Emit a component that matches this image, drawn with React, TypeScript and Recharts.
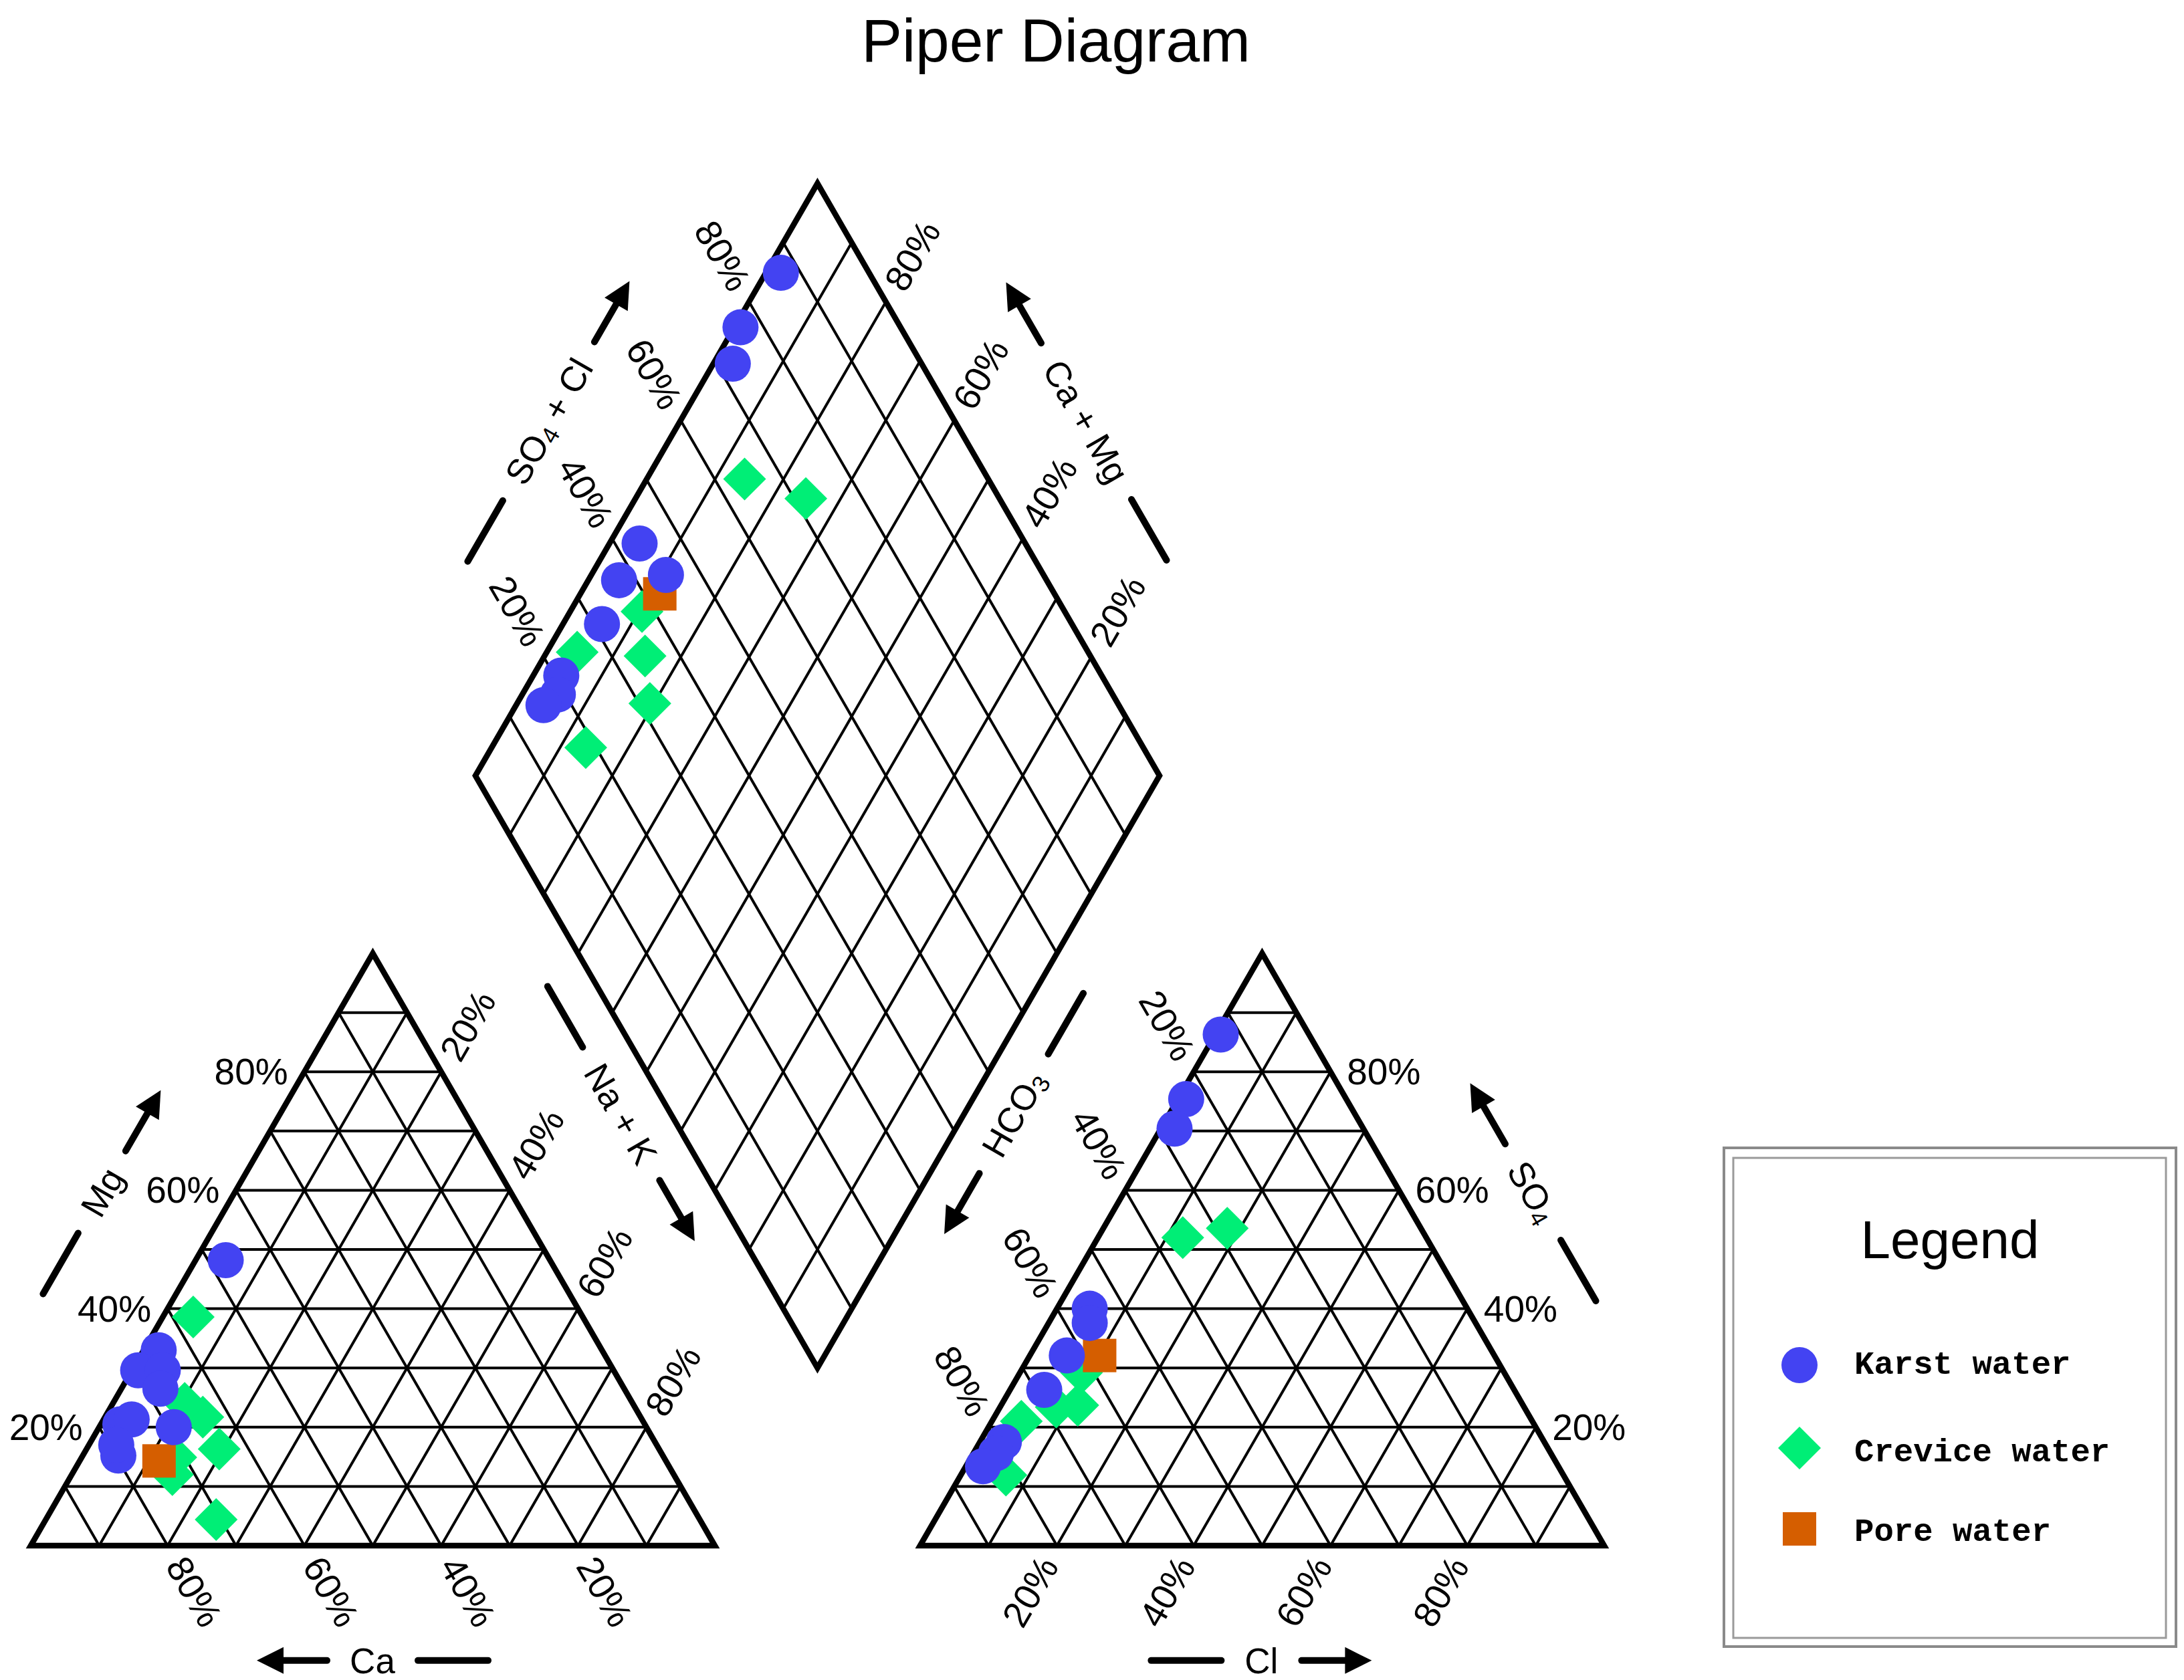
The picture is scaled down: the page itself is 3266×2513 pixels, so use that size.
import React from "react";
import { ScatterChart, Scatter, XAxis, YAxis, ReferenceLine, Legend } from "recharts";

// ---- sample compositions (meq %) ----
const karstMg = [33.0, 29.6, 20.5, 20.0, 48.2, 29.6, 26.5, 21.3, 15.2, 17.0];
const karstNaK = [2.2, 0.9, 2.85, 10.9, 4.4, 4.5, 5.7, 4.1, 5.2, 4.0];
const karstSO4 = [86.3, 75.4, 70.4, 40.0, 37.6, 32.1, 26.3, 17.5, 15.6, 13.4];
const karstCl = [0.8, 1.2, 2.0, 4.8, 6.0, 5.4, 5.0, 3.5, 3.3, 2.5];

const creviceMg = [38.6, 21.7, 16.3, 4.4, 24.0, 14.9, 12.0];
const creviceNaK = [4.45, 14.3, 19.4, 24.9, 10.5, 13.75, 14.7];
const creviceSO4 = [21.0, 52.0, 23.4, 53.6, 29.2, 11.9, 23.7];
const creviceCl = [4.3, 12.4, 8.2, 18.1, 9.0, 6.6, 11.2];

const poreMg = [14.3];
const poreNaK = [11.6];
const poreSO4 = [32.1];
const poreCl = [10.2];

const TICK_VALUES = [20, 40, 60, 80];
const GRID_STEPS = [10, 20, 30, 40, 50, 60, 70, 80, 90];

const legendItems = [
  { name: "Karst water", kind: "circle", color: "#4343F2" },
  { name: "Crevice water", kind: "diamond", color: "#00EE76" },
  { name: "Pore water", kind: "square", color: "#D55E00" },
];

// ---- layout ----
const W = 3266;
const HGT = 2513;
const PX = 10.23;
const ORIGIN_X = 46;
const ORIGIN_Y = 2312;
const X_DOMAIN = [-ORIGIN_X / PX, (W - ORIGIN_X) / PX];
const Y_DOMAIN = [-(HGT - ORIGIN_Y) / PX, ORIGIN_Y / PX];

const FONT = '"Liberation Sans", Arial, Helvetica, sans-serif';
const MONO = '"Liberation Mono", "Courier New", monospace';

const SQ = Math.sqrt(3) / 2;
const GAP = 30;
const AN_X0 = 100 + GAP;
const DL = { x: 50 + GAP / 2, y: (GAP / 2) * Math.sqrt(3) + 100 * SQ };

const cationXY = (mg: number, nak: number) => ({ x: nak + mg / 2, y: mg * SQ });
const anionXY = (so4: number, cl: number) => ({ x: AN_X0 + cl + so4 / 2, y: so4 * SQ });
const diamondXY = (c: number, s: number) => ({ x: DL.x + (c + s) / 2, y: DL.y + (s - c) * SQ });

function project(mg: number[], nak: number[], so4: number[], cl: number[]) {
  const pts: { x: number; y: number }[] = [];
  mg.forEach((m, i) => {
    pts.push(cationXY(m, nak[i]));
    pts.push(anionXY(so4[i], cl[i]));
    pts.push(diamondXY(nak[i], so4[i] + cl[i]));
  });
  return pts;
}

const karstPts = project(karstMg, karstNaK, karstSO4, karstCl);
const crevicePts = project(creviceMg, creviceNaK, creviceSO4, creviceCl);
const porePts = project(poreMg, poreNaK, poreSO4, poreCl);

// grid
const gridSegments: { x: number; y: number }[][] = [];
GRID_STEPS.forEach((k) => {
  gridSegments.push([cationXY(k, 0), cationXY(k, 100 - k)]);
  gridSegments.push([cationXY(0, k), cationXY(100 - k, k)]);
  gridSegments.push([cationXY(0, 100 - k), cationXY(100 - k, 0)]);
  gridSegments.push([anionXY(k, 0), anionXY(k, 100 - k)]);
  gridSegments.push([anionXY(0, k), anionXY(100 - k, k)]);
  gridSegments.push([anionXY(0, 100 - k), anionXY(100 - k, 0)]);
  gridSegments.push([diamondXY(k, 0), diamondXY(k, 100)]);
  gridSegments.push([diamondXY(0, k), diamondXY(100, k)]);
});

const leftTri = [cationXY(0, 0), cationXY(0, 100), cationXY(100, 0), cationXY(0, 0), cationXY(0, 100)];
const rightTri = [anionXY(0, 0), anionXY(0, 100), anionXY(100, 0), anionXY(0, 0), anionXY(0, 100)];
const diamondOutline = [
  diamondXY(0, 0), diamondXY(100, 0), diamondXY(100, 100), diamondXY(0, 100), diamondXY(0, 0), diamondXY(100, 0),
];

// tick labels
const OFF = 2.4;
const place = (p: { x: number; y: number }, dx: number, dy: number, rot: number, anchor: string, t: number) => ({
  x: p.x + dx * OFF,
  y: p.y + dy * OFF,
  rot,
  anchor,
  text: `${t}%`,
});
const tickLabels: any[] = [];
TICK_VALUES.forEach((t) => {
  tickLabels.push(place(cationXY(t, 0), -1, 0, 0, "end", t));
  tickLabels.push(place(cationXY(100 - t, t), 0.5, SQ, -60, "start", t));
  tickLabels.push(place(cationXY(0, 100 - t), 0.5, -SQ, 60, "start", t));
  tickLabels.push(place(anionXY(0, t), -0.5, -SQ, -60, "end", t));
  tickLabels.push(place(anionXY(100 - t, 0), -0.5, SQ, 60, "end", t));
  tickLabels.push(place(anionXY(t, 100 - t), 1, 0, 0, "start", t));
  tickLabels.push(place(diamondXY(0, t), -0.5, SQ, 60, "end", t));
  tickLabels.push(place(diamondXY(100 - t, 100), 0.5, SQ, -60, "start", t));
});

// axis titles with arrows
const axisTitles = [
  { x: 49.95, y: -16.8, rot: 0, arrow: "start", half: 33, parts: [["Ca", false]] },
  { x: 179.9, y: -16.8, rot: 0, arrow: "end", half: 25, parts: [["Cl", false]] },
  { x: 10.4, y: 51.7, rot: -60, arrow: "end", half: 36, parts: [["Mg", false]] },
  { x: 219.6, y: 51.7, rot: 60, arrow: "start", half: 48, parts: [["SO", false], ["4", true]] },
  { x: 86.3, y: 63.15, rot: 60, arrow: "end", half: 80, parts: [["Na + K", false]] },
  { x: 143.7, y: 63.15, rot: -60, arrow: "start", half: 68, parts: [["HCO", false], ["3", true]] },
  { x: 75.7, y: 164.4, rot: -60, arrow: "end", half: 102, parts: [["SO", false], ["4", true], [" + Cl", false]] },
  { x: 154.3, y: 164.4, rot: 60, arrow: "start", half: 100, parts: [["Ca + Mg", false]] },
];

const Empty = () => <g />;

const TickShape = (props: any) => {
  const { cx, cy, payload } = props;
  return (
    <text
      x={cx}
      y={cy}
      transform={`rotate(${payload.rot} ${cx} ${cy})`}
      textAnchor={payload.anchor}
      dominantBaseline="central"
      fontSize={55}
      fontFamily={FONT}
      fill="#000"
    >
      {payload.text}
    </text>
  );
};

const TitleShape = (props: any) => {
  const { cx, cy, payload } = props;
  const inner = payload.half + 35;
  const outer = inner + 105;
  const s = payload.arrow === "end" ? 1 : -1;
  return (
    <g transform={`translate(${cx} ${cy}) rotate(${payload.rot})`}>
      <line x1={-s * inner} x2={-s * outer} y1={0} y2={0} stroke="#000" strokeWidth={10} strokeLinecap="round" />
      <line x1={s * inner} x2={s * (outer - 30)} y1={0} y2={0} stroke="#000" strokeWidth={10} strokeLinecap="round" />
      <polygon points={`${s * outer},0 ${s * (outer - 40)},-20 ${s * (outer - 40)},20`} fill="#000" />
      <text x={0} y={0} textAnchor="middle" dominantBaseline="central" fontSize={53} fontFamily={FONT} fill="#000">
        {payload.parts.map((p: any, i: number) =>
          p[1] ? (
            <tspan key={i} fontSize={36} dy={12}>
              {p[0]}
            </tspan>
          ) : (
            <tspan key={i} dy={i > 0 && payload.parts[i - 1][1] ? -12 : 0}>
              {p[0]}
            </tspan>
          )
        )}
      </text>
    </g>
  );
};

const marker = (kind: string, color: string, cx: number, cy: number) => {
  if (kind === "circle") return <circle cx={cx} cy={cy} r={27} fill={color} />;
  if (kind === "diamond")
    return <polygon points={`${cx},${cy - 32} ${cx + 32},${cy} ${cx},${cy + 32} ${cx - 32},${cy}`} fill={color} />;
  return <rect x={cx - 25} y={cy - 25} width={50} height={50} fill={color} />;
};

const LegendBox = () => {
  const rows = [327, 451, 572];
  const base = [339.6, 470.5, 590];
  return (
    <svg width={680} height={750}>
      <rect x={2} y={2} width={676} height={746} fill="#fff" stroke="#8a8a8a" strokeWidth={4} />
      <rect x={16} y={17} width={647} height={718} fill="none" stroke="#9a9a9a" strokeWidth={3} />
      <text x={340} y={167} textAnchor="middle" fontSize={80} fontFamily={FONT} fill="#000">
        Legend
      </text>
      {legendItems.map((it, i) => (
        <g key={it.name}>
          {marker(it.kind, it.color, 115, rows[i])}
          <text x={197} y={base[i]} fontSize={49} fontWeight="bold" fontFamily={MONO} fill="#000">
            {it.name}
          </text>
        </g>
      ))}
    </svg>
  );
};

export default function App() {
  const [karst, crevice, pore] = legendItems;
  return (
    <div style={{ position: "absolute", left: 0, top: 0, width: W, height: HGT, background: "#fff" }}>
      <ScatterChart width={W} height={HGT} margin={{ top: 0, right: 0, bottom: 0, left: 0 }}>
        <XAxis type="number" dataKey="x" domain={X_DOMAIN} allowDataOverflow hide height={0} />
        <YAxis type="number" dataKey="y" domain={Y_DOMAIN} allowDataOverflow hide width={0} />
        {gridSegments.map((seg, i) => (
          <ReferenceLine key={i} segment={seg} stroke="#000" strokeWidth={4} zIndex={-100} />
        ))}
        <Scatter data={leftTri} line={{ stroke: "#000", strokeWidth: 8.5 }} shape={Empty} isAnimationActive={false} legendType="none" />
        <Scatter data={rightTri} line={{ stroke: "#000", strokeWidth: 8.5 }} shape={Empty} isAnimationActive={false} legendType="none" />
        <Scatter data={diamondOutline} line={{ stroke: "#000", strokeWidth: 8.5 }} shape={Empty} isAnimationActive={false} legendType="none" />
        <Scatter
          name={crevice.name}
          data={crevicePts}
          fill={crevice.color}
          isAnimationActive={false}
          shape={(p: any) => marker("diamond", crevice.color, p.cx, p.cy)}
        />
        <Scatter
          name={pore.name}
          data={porePts}
          fill={pore.color}
          isAnimationActive={false}
          shape={(p: any) => marker("square", pore.color, p.cx, p.cy)}
        />
        <Scatter
          name={karst.name}
          data={karstPts}
          fill={karst.color}
          isAnimationActive={false}
          shape={(p: any) => marker("circle", karst.color, p.cx, p.cy)}
        />
        <Scatter data={tickLabels} shape={TickShape} isAnimationActive={false} legendType="none" />
        <Scatter data={axisTitles} shape={TitleShape} isAnimationActive={false} legendType="none" />
        <Legend
          layout="vertical"
          align="center"
          verticalAlign="middle"
          width={680}
          height={750}
          wrapperStyle={{ left: 2576, top: 1715, width: 680, height: 750 }}
          content={() => <LegendBox />}
        />
      </ScatterChart>
      <svg width={W} height={160} style={{ position: "absolute", left: 0, top: 0, pointerEvents: "none" }}>
        <text x={1579} y={92} textAnchor="middle" fontSize={91} fontFamily={FONT} fill="#000">
          Piper Diagram
        </text>
      </svg>
    </div>
  );
}
